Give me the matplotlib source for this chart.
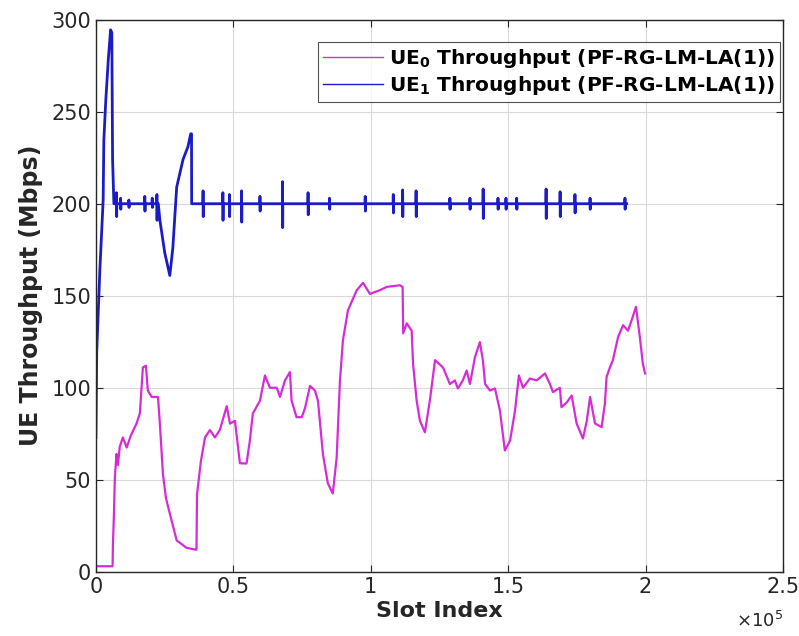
import numpy as np
import matplotlib
matplotlib.use("Agg")
import matplotlib.pyplot as plt

# UE0 throughput (magenta)
ue0_slot = [0, 6080, 6200, 6550, 6900, 7500, 8000, 8700, 9800, 11200, 12700, 14800,
            16000, 17100, 18200, 18900, 20300, 22600, 23300, 24400, 25500, 26900,
            29400, 33000, 36400, 36600, 36800, 38200, 39700, 41500, 43300, 45100,
            47600, 48800, 50600, 52400, 54800, 56000, 57100, 59700, 61500, 63300,
            65800, 67000, 68800, 70600, 71200, 73000, 74900, 76100, 77900, 79700,
            80800, 82600, 84400, 86200, 87600, 88800, 89900, 91700, 94900, 97200,
            99700, 103300, 105800, 110600, 111600, 111800, 113100, 114900, 115400,
            116700, 117900, 119700, 121500, 123400, 126300, 128800, 130600, 131700,
            133500, 134900, 136100, 137900, 139700, 140800, 141600, 143400, 145200,
            147000, 148800, 150700, 152500, 153900, 155400, 157900, 160400, 163400,
            165200, 166300, 168800, 169400, 171300, 173100, 174900, 177200, 178600,
            179800, 181600, 184000, 185200, 185800, 187000, 188100, 190000, 191800,
            193600, 194900, 196500, 197900, 199000, 199800]
ue0_tput = [3, 3, 15, 30, 51, 64, 58, 68, 73, 67.5, 74, 80.6,
            86, 111, 112, 98.5, 95, 95, 80, 53, 40, 31.6,
            17, 13, 12, 12, 42, 60, 73, 77, 73, 77,
            90, 80.5, 82, 59, 58.8, 71, 86, 93, 106.7, 100,
            100, 95, 104, 108.5, 93, 84, 84, 89, 101, 98.5,
            93, 64, 48, 42.5, 62, 104, 126, 142, 153, 157,
            151, 153, 154.8, 155.7, 154.8, 129.6, 135, 131, 113,
            93, 82, 75.8, 93, 115, 111, 102, 104, 99.6,
            104, 109.4, 102, 116.5, 124.8, 115, 102, 98.5, 99.6,
            87.6, 65.9, 71.3, 87.6, 106.7, 100, 105, 104, 107.8,
            102, 97.6, 100, 89.4, 92, 95.8, 80.6, 72.4, 82,
            95, 80.6, 78.6, 91.5, 105.8, 111, 115, 127.6, 134,
            131, 136.6, 144, 127.6, 113, 107.8]

# UE1 throughput (blue), main shape
ue1_slot = [0, 300, 1450, 2650, 2900, 3600, 4500, 5350, 5800, 6080, 6550,
            22700, 23300, 25100, 26900, 28000, 29400, 31700, 33500, 34500,
            34800, 34850, 193100]
ue1_tput = [73, 119, 164, 202, 234.6, 256, 278, 294.5, 293, 224, 200,
            200, 191, 173, 161, 176, 209, 224, 231, 238,
            238, 200, 200]

# UE1 short spikes around the 200 Mbps plateau: slot, high, low
spike_slot = [7500, 9000, 12000, 17800, 20500, 22200, 39000, 46200, 48600, 53000,
              59700, 67900, 77200, 85000, 98000, 108200, 111600, 116500, 128800,
              136100, 140900, 146300, 149200, 153100, 163800, 168900, 174300,
              179800, 192500]
spike_high = [206, 203, 202, 204, 203, 205, 207, 206, 205, 207,
              204, 212, 206, 203, 204, 205, 207.5, 207, 203,
              203, 208, 203, 203, 203, 208, 206.5, 205,
              203, 203]
spike_low = [193, 197, 198, 196, 198, 191, 193, 191, 193, 190,
             196, 187, 194, 197, 196, 195, 193, 193, 197,
             197, 192, 197, 197, 197, 192, 193, 195,
             197, 197]

# merge spikes into the UE1 trace
s = list(ue1_slot)
v = list(ue1_tput)
for x0, hi, lo in zip(spike_slot, spike_high, spike_low):
    s += [x0 - 60, x0, x0 + 60, x0 + 120]
    v += [200, hi, lo, 200]
order = np.argsort(s, kind="stable")
ue1_s = np.array(s)[order]
ue1_v = np.array(v)[order]

plt.rcParams['font.family'] = ['DejaVu Sans']
fig = plt.figure(figsize=(7.99, 6.36), dpi=100)
ax = fig.add_axes([0.120, 0.101, 0.860, 0.868])

ax.plot(ue0_slot, ue0_tput, color='#d82bd8', lw=1.6,
        label=r'UE$_{\mathbf{0}}$ Throughput (PF-RG-LM-LA(1))')
ax.plot(ue1_s, ue1_v, color='#1c1cc4', lw=2.0,
        label=r'UE$_{\mathbf{1}}$ Throughput (PF-RG-LM-LA(1))')

ax.set_xlim(0, 2.5e5)
ax.set_ylim(0, 300)
ax.set_xticks([0, 0.5e5, 1e5, 1.5e5, 2e5, 2.5e5])
ax.set_xticklabels(['0', '0.5', '1', '1.5', '2', '2.5'])
ax.set_yticks(range(0, 301, 50))
ax.tick_params(direction='in', top=True, right=True, labelsize=15,
               colors='#262626', length=5, width=0.8)
ax.grid(True, color='#d9d9d9', lw=0.8)
ax.set_axisbelow(True)
for sp in ax.spines.values():
    sp.set_color('#262626')
    sp.set_linewidth(1.0)

ax.set_xlabel('Slot Index', fontsize=16, fontweight='bold', color='#262626', labelpad=3)
ax.set_ylabel('UE Throughput (Mbps)', fontsize=17, fontweight='bold', color='#262626', labelpad=6)
fig.text(0.980, 0.008, r'$\times10^5$', ha='right', va='bottom', fontsize=13, color='#262626')

leg = ax.legend(loc='upper right', prop={'weight': 'bold', 'size': 14.5},
                frameon=True, fancybox=False, edgecolor='#262626', borderpad=0.25,
                handlelength=3.0, handletextpad=0.3, labelspacing=0.2,
                borderaxespad=0.15, bbox_to_anchor=(1.0, 0.965))
leg.get_frame().set_linewidth(0.8)
for line in leg.get_lines():
    line.set_linewidth(1.0)

fig.savefig('out.png', dpi=100)
